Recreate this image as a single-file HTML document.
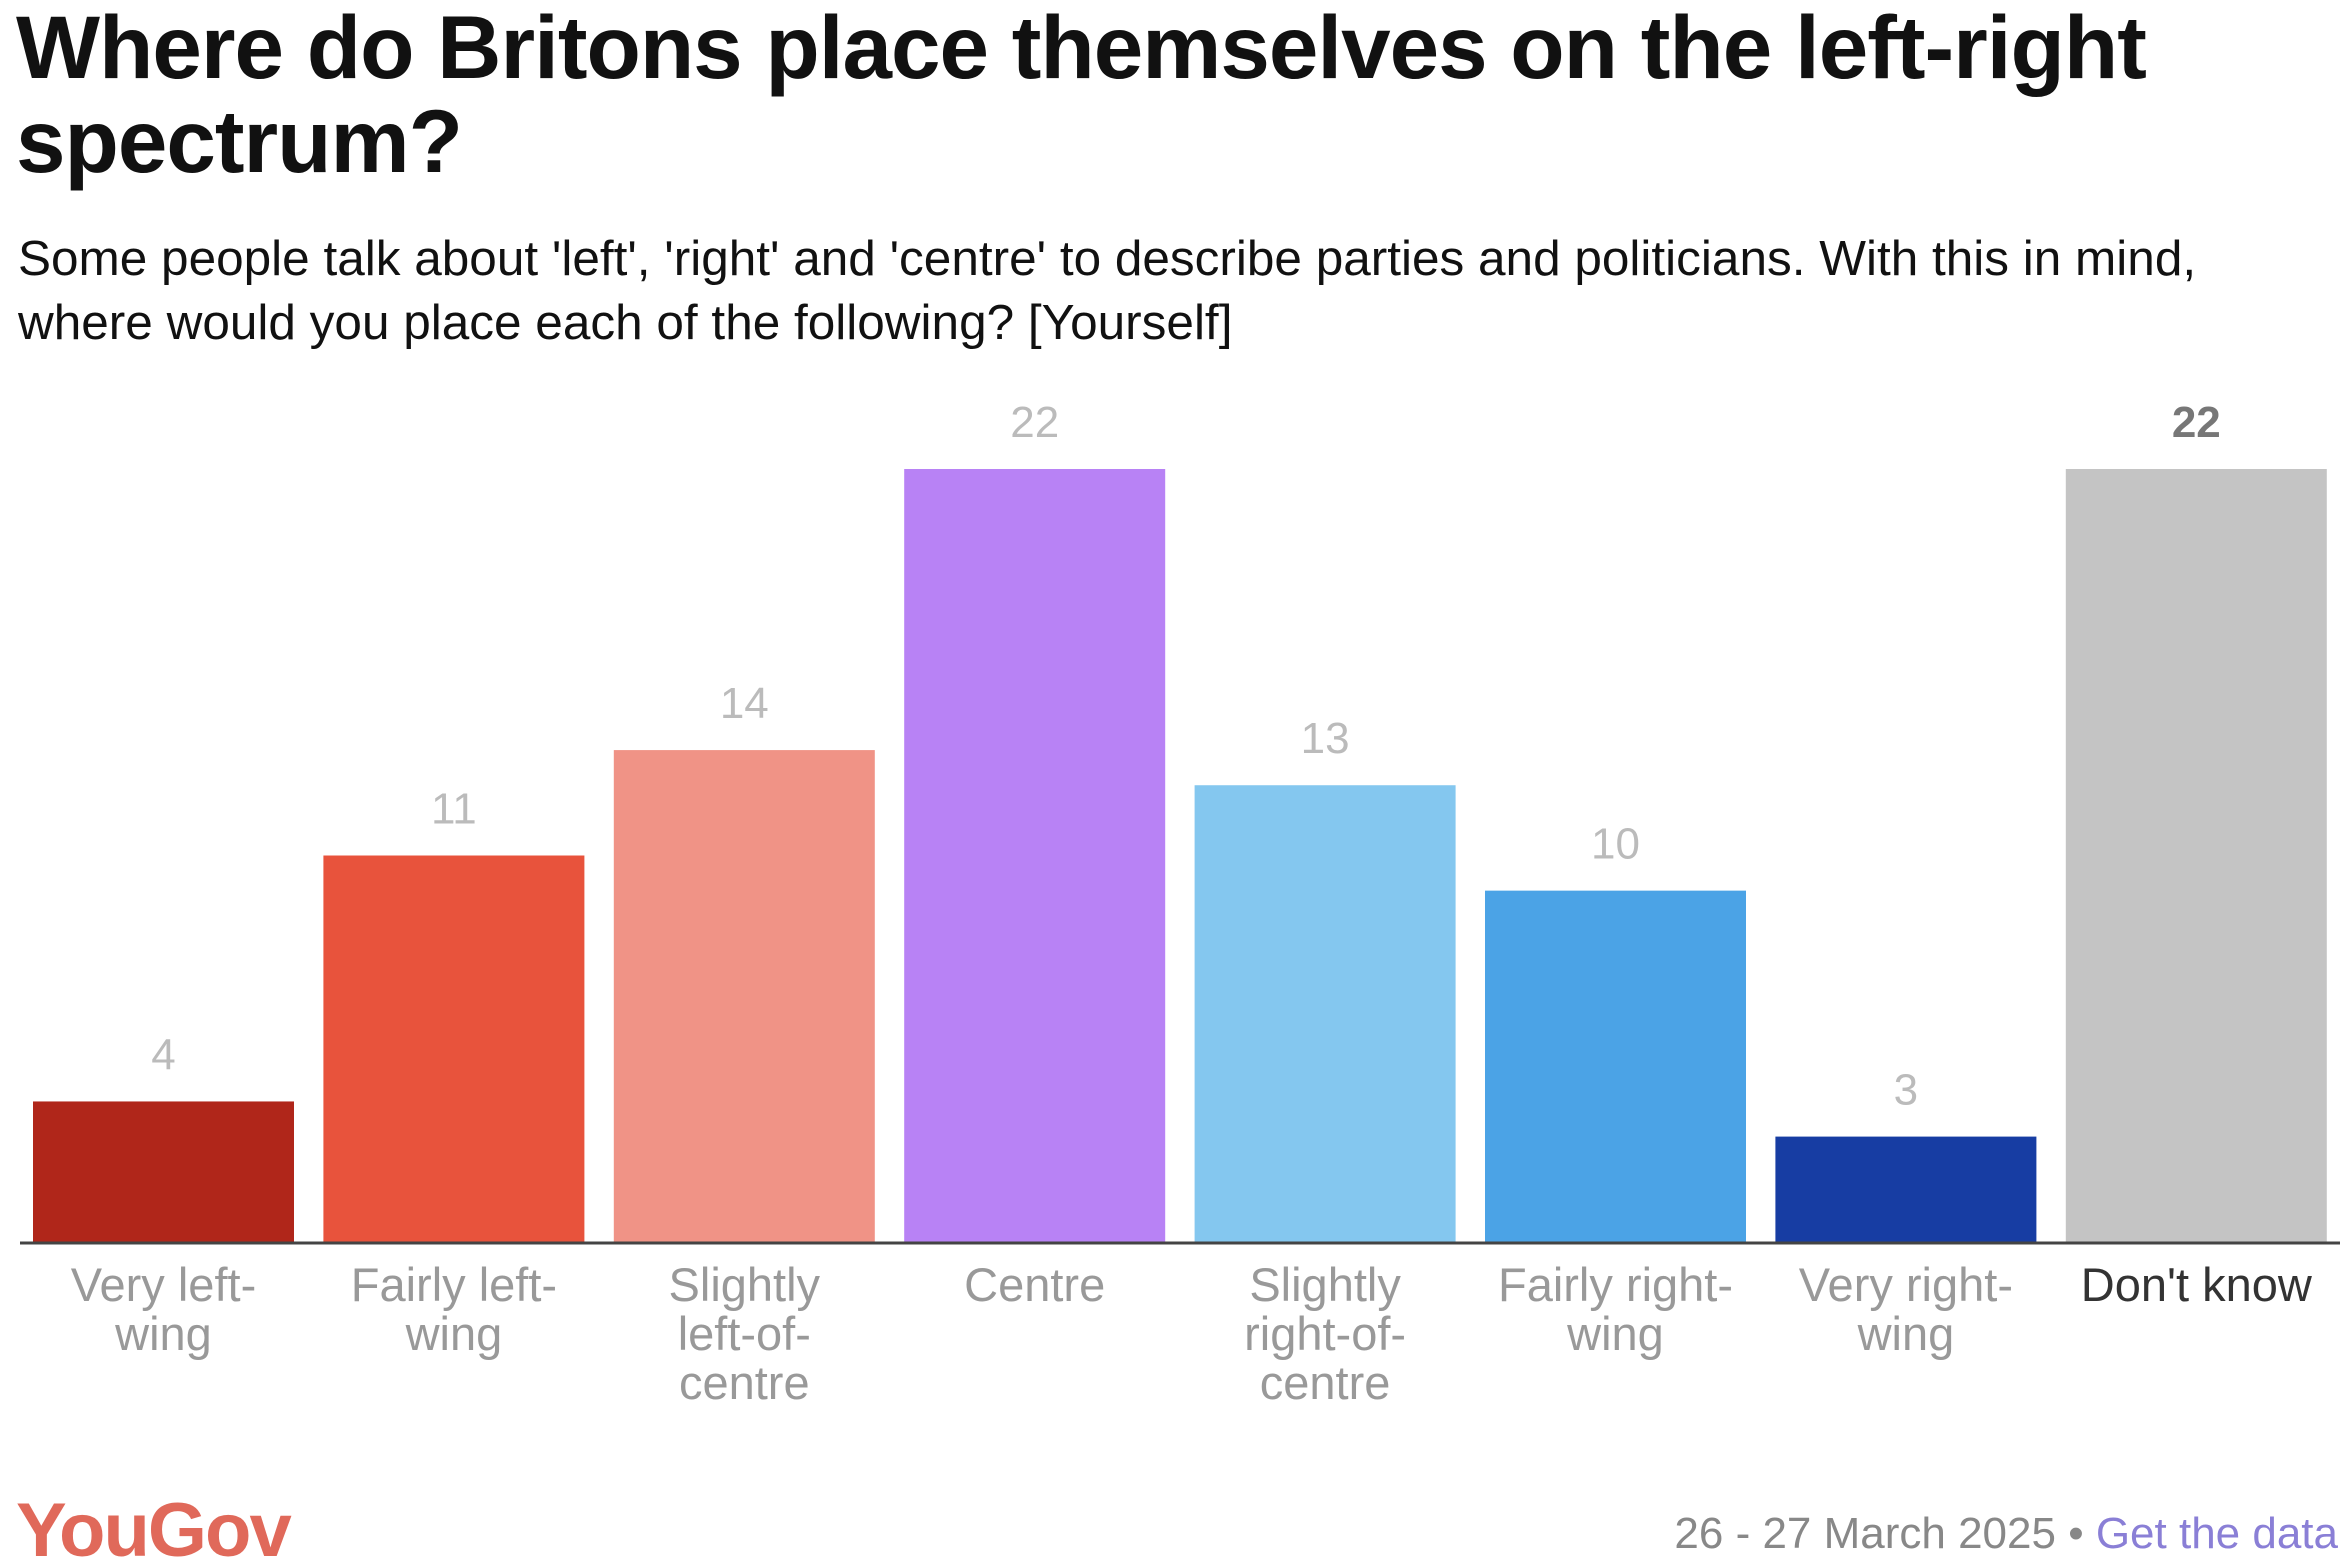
<!DOCTYPE html>
<html><head><meta charset="utf-8"><style>
body{margin:0;width:2352px;height:1566px;background:#fff;overflow:hidden;font-family:"Liberation Sans",sans-serif;}
#title{position:absolute;left:16px;top:0px;width:2330px;font-weight:bold;font-size:89px;line-height:94px;color:#111;letter-spacing:-1px;margin:0;white-space:nowrap}
#sub{position:absolute;left:18px;top:227px;width:2330px;font-size:49.5px;line-height:64px;color:#111;margin:0;white-space:nowrap}
svg{position:absolute;left:0;top:0}
</style></head><body>
<h1 id="title">Where do Britons place themselves on the left-right<br>spectrum?</h1>
<p id="sub">Some people talk about 'left', 'right' and 'centre' to describe parties and politicians. With this in mind,<br>where would you place each of the following? [Yourself]</p>
<svg id="chart" width="2352" height="1566"></svg>
<script>
const categories=[["Very left-","wing"],["Fairly left-","wing"],["Slightly","left-of-","centre"],["Centre"],["Slightly","right-of-","centre"],["Fairly right-","wing"],["Very right-","wing"],["Don't know"]];
const values=[4,11,14,22,13,10,3,22];
const colors=["#b0261a","#e8533c","#f09386","#b882f5","#84c7ef","#4ba3e6","#173da3","#c4c4c4"];
const svg=document.getElementById('chart');
const NS="http://www.w3.org/2000/svg";
const baseY=1242,pxPerUnit=773/22,x0=33,pitch=290.4,bw=261;
const y=v=>baseY-v*pxPerUnit;
const x=i=>x0+i*pitch;
function mk(t,a){const e=document.createElementNS(NS,t);for(const k in a)e.setAttribute(k,a[k]);svg.appendChild(e);return e;}
values.forEach((v,i)=>{
  const r=mk('rect',{x:x(i),y:y(v),width:bw,height:v*pxPerUnit,fill:colors[i]});
  
  
  const last=i===values.length-1;
  const t=mk('text',{x:x(i)+bw/2,y:y(v)-32,'text-anchor':'middle','font-size':44,fill:last?'#777':'#bbb','font-weight':last?'bold':'normal'});
  t.textContent=v;
  
  
  categories[i].forEach((ln,j)=>{
    const c=mk('text',{x:x(i)+bw/2,y:1301+j*49,'text-anchor':'middle','font-size':47,fill:last?'#333':'#999'});
    c.textContent=ln;
    
    
  });
});
const ax=mk('line',{x1:20,x2:2340,y1:baseY+1,y2:baseY+1,stroke:'#444','stroke-width':3});


const logo=mk('text',{x:16,y:1556,'font-size':76,'font-weight':'bold',fill:'#e0695a','letter-spacing':-2});
logo.textContent='YouGov';


const ft=mk('text',{x:2338,y:1548,'text-anchor':'end','font-size':44,fill:'#888'});


ft.innerHTML='26 - 27 March 2025 • <tspan fill="#8a7fd6">Get the data</tspan>';
</script>
</body></html>
